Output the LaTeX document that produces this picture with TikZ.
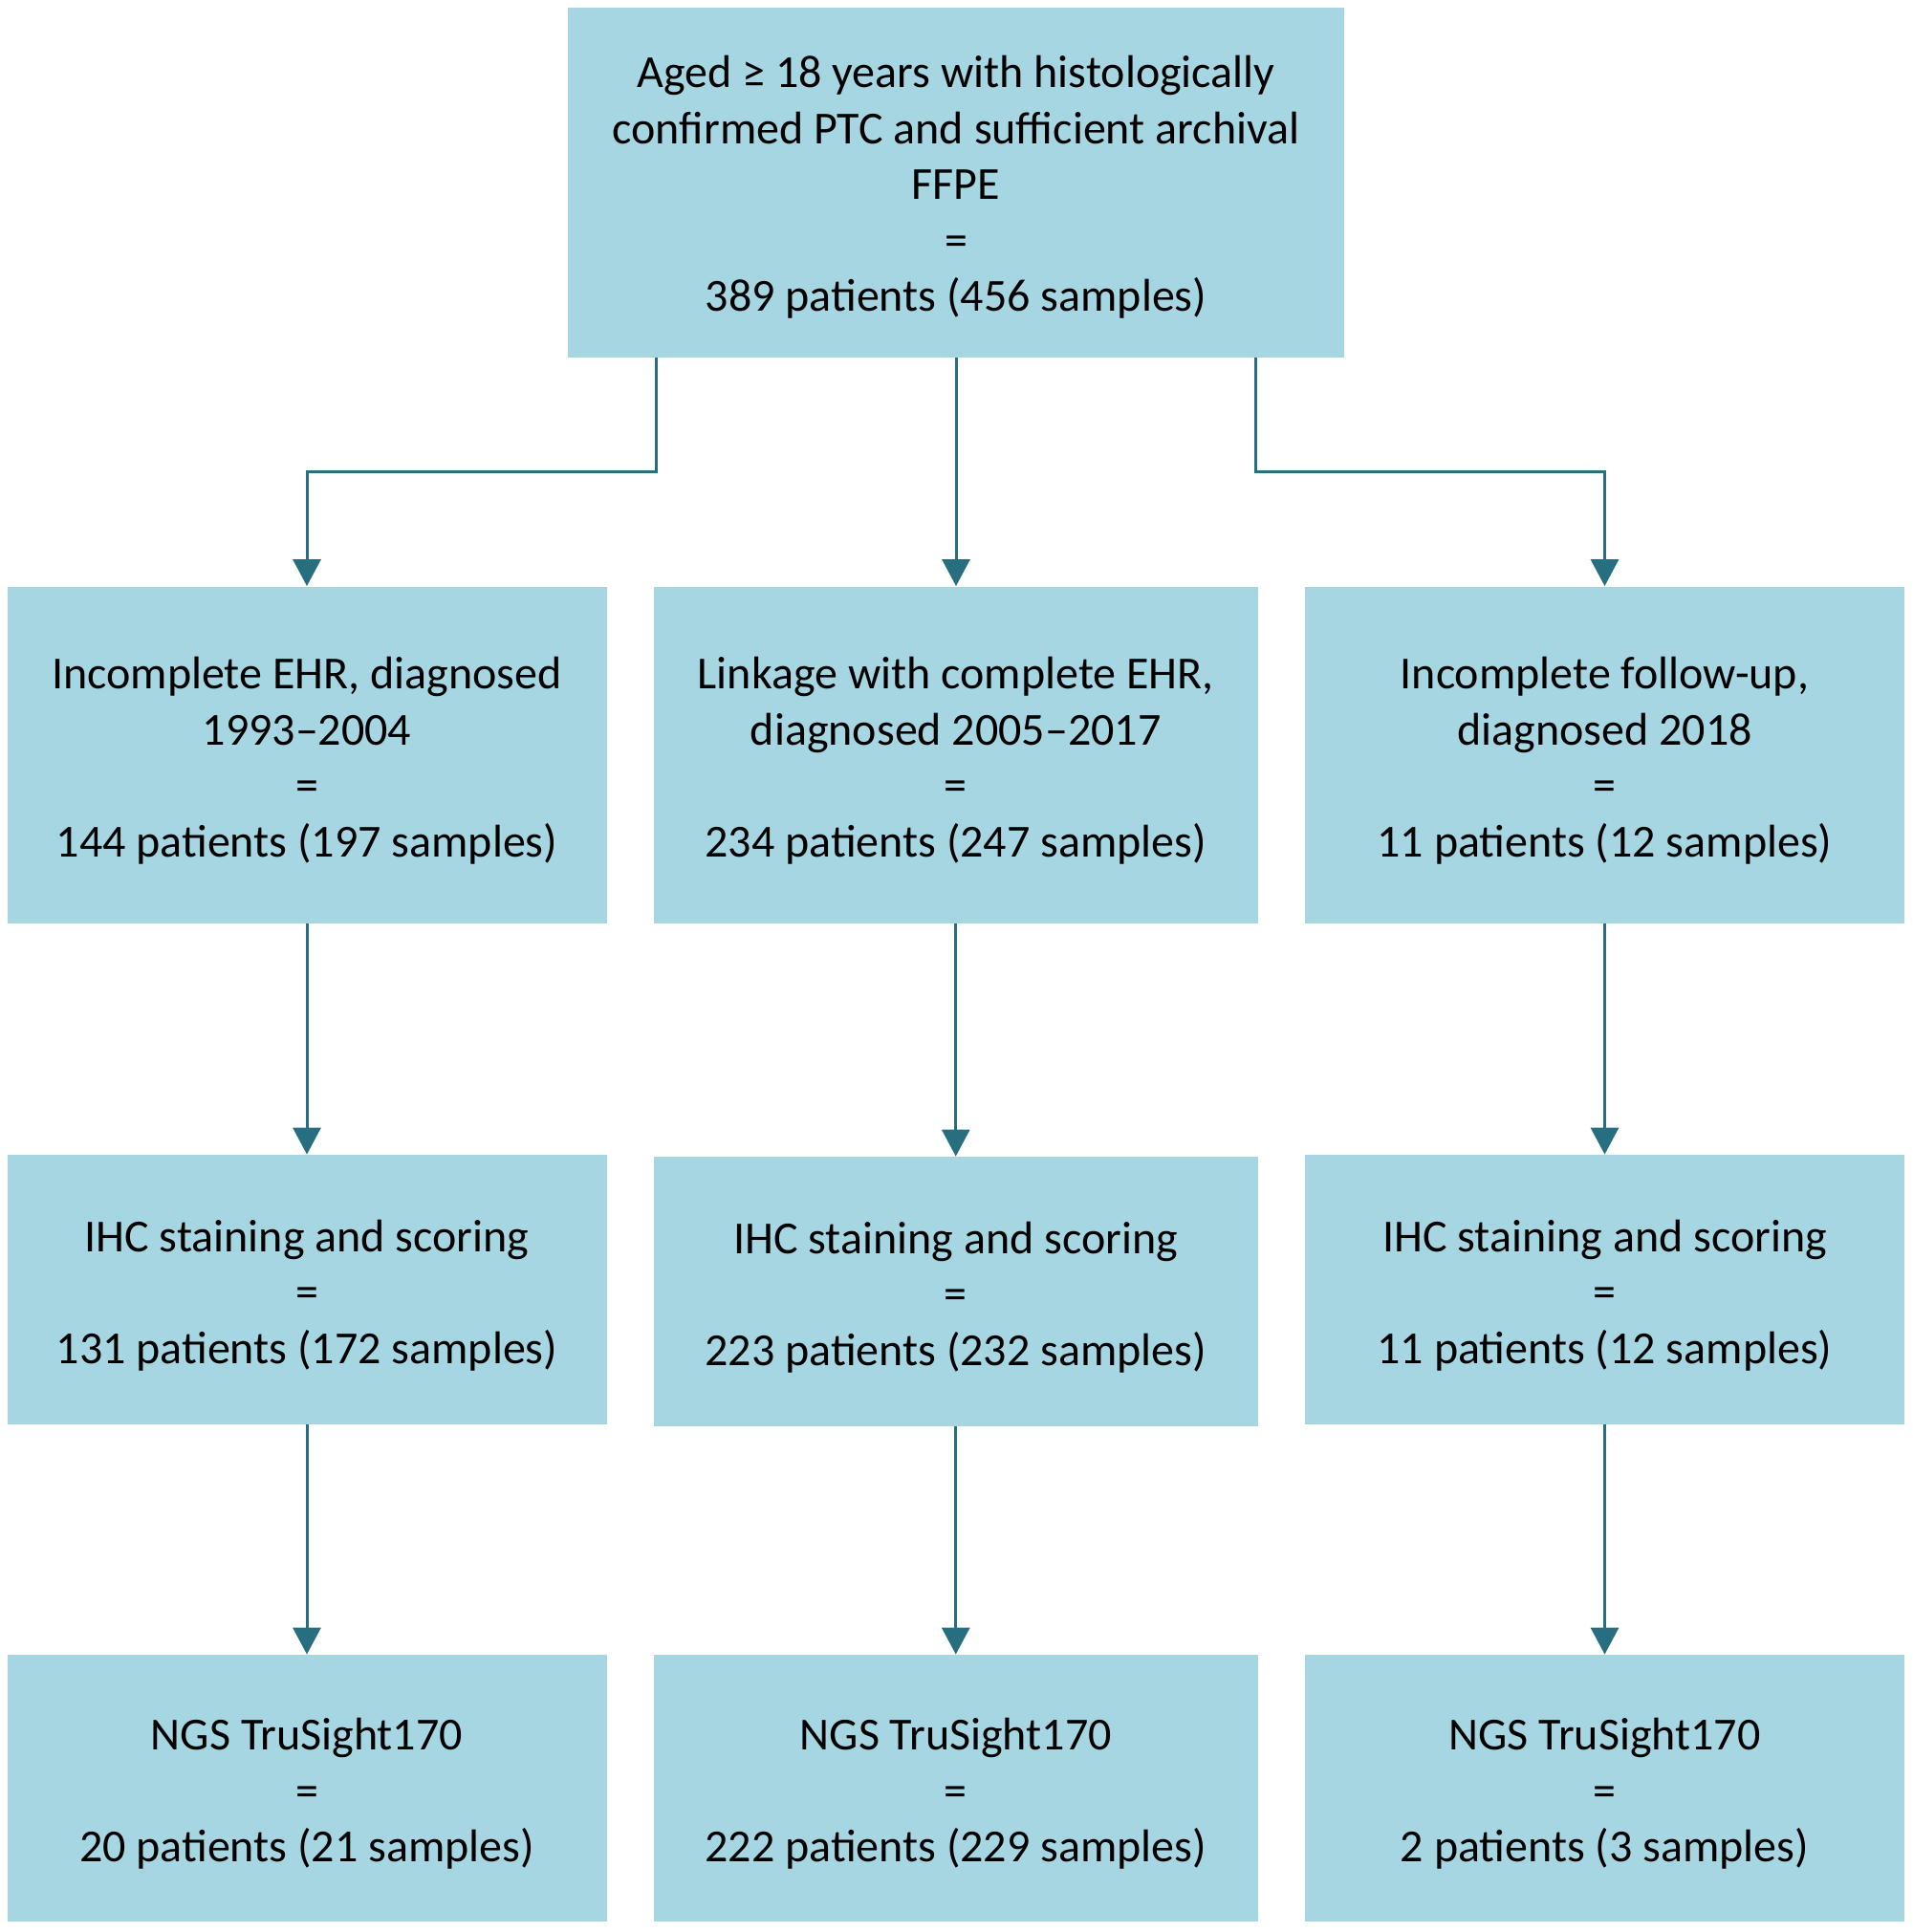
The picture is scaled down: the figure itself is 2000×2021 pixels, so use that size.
\documentclass[tikz,border=0pt]{standalone}
\usepackage{fontspec}
\setmainfont{Carlito}
\usetikzlibrary{arrows.meta}
\definecolor{boxfill}{RGB}{167,214,227}
\definecolor{linec}{RGB}{38,110,128}
\begin{document}
\begin{tikzpicture}[x=0.5pt,y=-0.5pt,
 box/.style={fill=boxfill, draw=none, inner sep=0pt},
 txt/.style={inner sep=0pt, align=center, font=\fontsize{24}{29.3}\selectfont},
 conn/.style={draw=linec, line width=1.5pt, -{Triangle[length=14pt,width=14.5pt]}},
 wide/.style={minimum width=#1*0.5pt},
 tall/.style={minimum height=#1*0.5pt}
]
\useasboundingbox (0,0) rectangle (2000,2021);
% boxes
\node[box, wide=812, tall=366] (top) at (1000,191) {};
\node[box, wide=627, tall=352] (l2) at (321,789.5) {};
\node[box, wide=631.5, tall=352] (m2) at (999.75,789.5) {};
\node[box, wide=627, tall=352] (r2) at (1678.5,789.5) {};
\node[box, wide=627, tall=282] (l3) at (321,1349) {};
\node[box, wide=631.5, tall=282] (m3) at (999.75,1351) {};
\node[box, wide=627, tall=282] (r3) at (1678.5,1349) {};
\node[box, wide=627, tall=279] (l4) at (321,1870.5) {};
\node[box, wide=631.5, tall=279] (m4) at (999.75,1870.5) {};
\node[box, wide=627, tall=279] (r4) at (1678.5,1870.5) {};
% texts
\node[txt] (topt) at ([yshift=-2.5pt]top.center) {Aged ≥ 18 years with histologically\\confirmed PTC and sufficient archival\\FFPE\\=\\389 patients (456 samples)};
\node[txt] (l2t) at ([yshift=-3pt]l2.center) {Incomplete EHR, diagnosed\\1993–2004\\=\\144 patients (197 samples)};
\node[txt] (m2t) at ([yshift=-3pt]m2.center) {Linkage with complete EHR,\\diagnosed 2005–2017\\=\\234 patients (247 samples)};
\node[txt] (r2t) at ([yshift=-3pt]r2.center) {Incomplete follow-up,\\diagnosed 2018\\=\\11 patients (12 samples)};
\node[txt] (l3t) at ([yshift=-3pt]l3.center) {IHC staining and scoring\\=\\131 patients (172 samples)};
\node[txt] (m3t) at ([yshift=-3pt]m3.center) {IHC staining and scoring\\=\\223 patients (232 samples)};
\node[txt] (r3t) at ([yshift=-3pt]r3.center) {IHC staining and scoring\\=\\11 patients (12 samples)};
\node[txt] (l4t) at ([yshift=-3pt]l4.center) {NGS TruSight170\\=\\20 patients (21 samples)};
\node[txt] (m4t) at ([yshift=-3pt]m4.center) {NGS TruSight170\\=\\222 patients (229 samples)};
\node[txt] (r4t) at ([yshift=-3pt]r4.center) {NGS TruSight170\\=\\2 patients (3 samples)};
% connectors
\coordinate (bl) at (686,493.5);
\coordinate (br) at (1313.5,493.5);
\draw[conn] (top.south -| bl) -- (bl) -| (l2.north);
\draw[conn] (top.south) -- (top.south |- m2.north);
\draw[conn] (top.south -| br) -- (br) -| (r2.north);
\draw[conn] (l2.south) -- (l3.north);
\draw[conn] (m2.south) -- (m3.north);
\draw[conn] (r2.south) -- (r3.north);
\draw[conn] (l3.south) -- (l4.north);
\draw[conn] (m3.south) -- (m4.north);
\draw[conn] (r3.south) -- (r4.north);
\end{tikzpicture}
\end{document}
